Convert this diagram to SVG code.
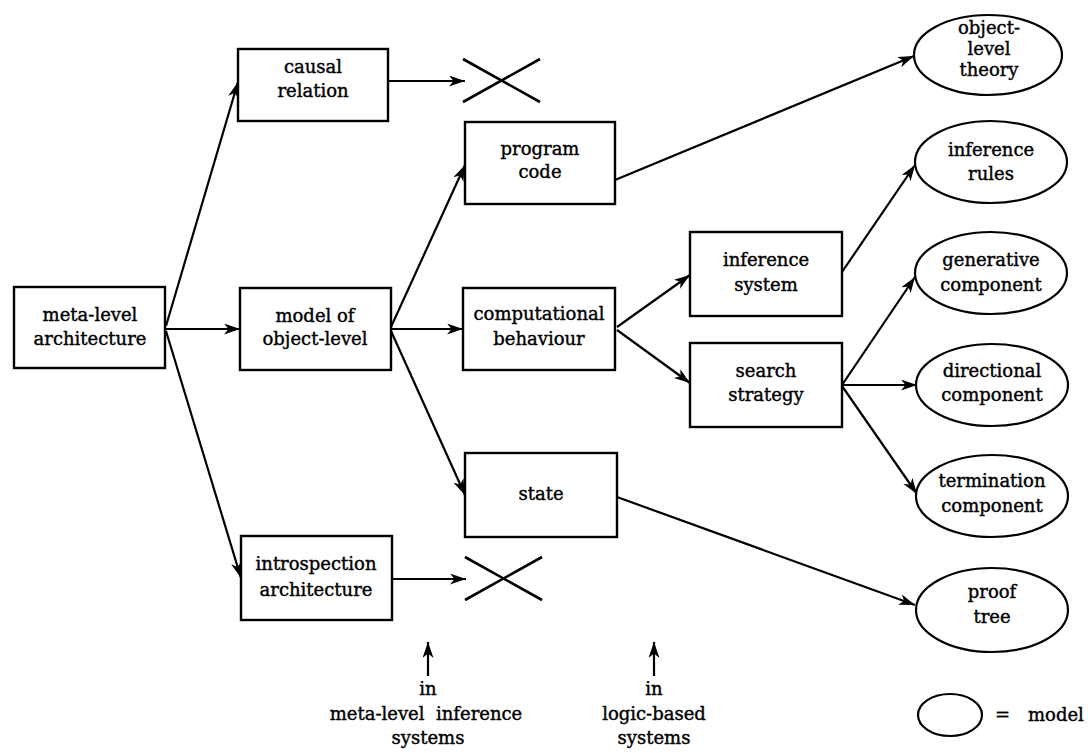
<svg xmlns="http://www.w3.org/2000/svg" width="1088" height="753" viewBox="0 0 1088 753">
<style>
  .box { fill: #fff; stroke: #000; stroke-width: 2.4; }
  .ell { fill: #fff; stroke: #000; stroke-width: 2.2; }
  .t { font-family: "DejaVu Serif", "Liberation Serif", serif; font-size: 18px; fill: #000; stroke: #000; stroke-width: 0.4; text-anchor: middle; }
  .tl { font-family: "DejaVu Serif", "Liberation Serif", serif; font-size: 18px; fill: #000; stroke: #000; stroke-width: 0.4; }
  .c { fill: none; stroke: #000; stroke-width: 2.2; marker-end: url(#arr); }
  .x { fill: none; stroke: #000; stroke-width: 2.6; }
</style>
<defs>
  <marker id="arr" markerUnits="userSpaceOnUse" markerWidth="17" markerHeight="12" refX="16" refY="5.5" orient="auto">
    <path d="M0,0 L16,5.5 L0,11 L4.5,5.5 Z" fill="#000"/>
  </marker>
</defs>
<rect width="1088" height="753" fill="#fff"/>

<g id="connectors">
  <line class="c" x1="166" y1="326" x2="238" y2="82"/>
  <line class="c" x1="166" y1="329" x2="240" y2="329"/>
  <line class="c" x1="166" y1="331" x2="241" y2="578"/>
  <line class="c" x1="388" y1="81" x2="465" y2="81"/>
  <line class="c" x1="391" y1="327" x2="465" y2="165"/>
  <line class="c" x1="391" y1="329" x2="463" y2="329"/>
  <line class="c" x1="391" y1="331" x2="465" y2="495"/>
  <line class="c" x1="615" y1="180" x2="914" y2="56"/>
  <line class="c" x1="617" y1="327" x2="690" y2="275"/>
  <line class="c" x1="617" y1="330" x2="690" y2="383"/>
  <line class="c" x1="842" y1="272" x2="915" y2="165"/>
  <line class="c" x1="842" y1="385" x2="915" y2="277"/>
  <line class="c" x1="842" y1="385" x2="917" y2="385"/>
  <line class="c" x1="842" y1="386" x2="917" y2="494"/>
  <line class="c" x1="617" y1="497" x2="915" y2="605"/>
  <line class="c" x1="392" y1="579" x2="466" y2="579"/>
  <line class="c" x1="428" y1="676" x2="428" y2="642"/>
  <line class="c" x1="654" y1="676" x2="654" y2="642"/>
</g>

<g id="cross1">
  <line class="x" x1="463" y1="59" x2="540" y2="102"/>
  <line class="x" x1="463" y1="102" x2="540" y2="59"/>
</g>
<g id="cross2">
  <line class="x" x1="465" y1="600" x2="542" y2="557"/>
  <line class="x" x1="465" y1="557" x2="542" y2="600"/>
</g>

<g id="meta-level-architecture">
  <rect class="box" x="14" y="287" width="151" height="81"/>
  <text class="t" x="90" y="321">meta-level</text>
  <text class="t" x="90" y="345">architecture</text>
</g>
<g id="causal-relation">
  <rect class="box" x="238" y="49" width="150" height="72"/>
  <text class="t" x="313" y="73">causal</text>
  <text class="t" x="313" y="97">relation</text>
</g>
<g id="model-of-object-level">
  <rect class="box" x="240" y="288" width="151" height="82"/>
  <text class="t" x="315" y="322">model of</text>
  <text class="t" x="315" y="345">object-level</text>
</g>
<g id="introspection-architecture">
  <rect class="box" x="241" y="536" width="151" height="84"/>
  <text class="t" x="316" y="570">introspection</text>
  <text class="t" x="316" y="596">architecture</text>
</g>
<g id="program-code">
  <rect class="box" x="465" y="122" width="150" height="82"/>
  <text class="t" x="540" y="155">program</text>
  <text class="t" x="540" y="178">code</text>
</g>
<g id="computational-behaviour">
  <rect class="box" x="463" y="288" width="152" height="82"/>
  <text class="t" x="539" y="320">computational</text>
  <text class="t" x="539" y="345">behaviour</text>
</g>
<g id="state">
  <rect class="box" x="465" y="453" width="152" height="84"/>
  <text class="t" x="541" y="500">state</text>
</g>
<g id="inference-system">
  <rect class="box" x="690" y="232" width="152" height="84"/>
  <text class="t" x="766" y="266">inference</text>
  <text class="t" x="766" y="291">system</text>
</g>
<g id="search-strategy">
  <rect class="box" x="690" y="343" width="152" height="84"/>
  <text class="t" x="766" y="377">search</text>
  <text class="t" x="766" y="401">strategy</text>
</g>

<g id="object-level-theory">
  <ellipse class="ell" cx="988" cy="55" rx="74" ry="40"/>
  <text class="t" x="989" y="34">object-</text>
  <text class="t" x="989" y="55">level</text>
  <text class="t" x="989" y="76">theory</text>
</g>
<g id="inference-rules">
  <ellipse class="ell" cx="991" cy="162" rx="76" ry="41"/>
  <text class="t" x="991" y="156">inference</text>
  <text class="t" x="991" y="180">rules</text>
</g>
<g id="generative-component">
  <ellipse class="ell" cx="991" cy="273" rx="76" ry="41"/>
  <text class="t" x="991" y="266">generative</text>
  <text class="t" x="991" y="291">component</text>
</g>
<g id="directional-component">
  <ellipse class="ell" cx="992" cy="385" rx="76" ry="41"/>
  <text class="t" x="992" y="377">directional</text>
  <text class="t" x="992" y="401">component</text>
</g>
<g id="termination-component">
  <ellipse class="ell" cx="992" cy="496" rx="76" ry="41"/>
  <text class="t" x="992" y="487">termination</text>
  <text class="t" x="992" y="512">component</text>
</g>
<g id="proof-tree">
  <ellipse class="ell" cx="992" cy="610" rx="76" ry="42"/>
  <text class="t" x="992" y="598">proof</text>
  <text class="t" x="992" y="623">tree</text>
</g>

<g id="label-meta-level-inference">
  <text class="t" x="428" y="695">in</text>
  <text class="t" x="426" y="720" xml:space="preserve">meta-level  inference</text>
  <text class="t" x="428" y="744">systems</text>
</g>
<g id="label-logic-based">
  <text class="t" x="654" y="695">in</text>
  <text class="t" x="654" y="720">logic-based</text>
  <text class="t" x="654" y="744">systems</text>
</g>
<g id="legend">
  <ellipse class="ell" cx="950" cy="715" rx="32" ry="21"/>
  <text class="tl" x="995" y="721">=</text>
  <text class="tl" x="1028" y="721">model</text>
</g>
</svg>
